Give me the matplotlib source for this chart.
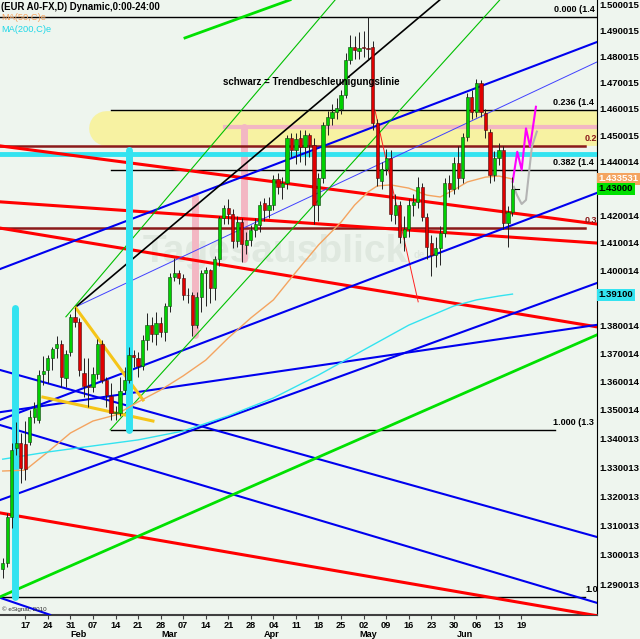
import numpy as np
import matplotlib.pyplot as plt
from matplotlib.transforms import blended_transform_factory
from matplotlib.ticker import FixedLocator, NullLocator, NullFormatter

plt.rcParams['font.family'] = ['Liberation Sans', 'DejaVu Sans']

# daily bars, index 0 = first bar on the chart
opens = [1.2953, 1.2973, 1.3130, 1.3367, 1.3384, 1.3380, 1.3387, 1.3475, 1.3465, 1.3626,
         1.3641, 1.3683, 1.3719, 1.3733, 1.3612, 1.3705, 1.3830, 1.3812, 1.3630, 1.3585,
         1.3581, 1.3627, 1.3733, 1.3605, 1.3550, 1.3490, 1.3490, 1.3570, 1.3605, 1.3694,
         1.3683, 1.3655, 1.3748, 1.3802, 1.3768, 1.3810, 1.3778, 1.3869, 1.3976, 1.3990,
         1.3972, 1.3910, 1.3910, 1.3802, 1.3904, 1.3990, 1.4000, 1.3934, 1.4040, 1.4190,
         1.4228, 1.4207, 1.4105, 1.4175, 1.4092, 1.4110, 1.4147, 1.4165, 1.4245, 1.4222,
         1.4240, 1.4335, 1.4305, 1.4320, 1.4490, 1.4445, 1.4490, 1.4457, 1.4500, 1.4465,
         1.4240, 1.4340, 1.4539, 1.4566, 1.4589, 1.4600, 1.4653, 1.4787, 1.4836, 1.4822,
         1.4836, 1.4834, 1.4837, 1.4546, 1.4330, 1.4375, 1.4414, 1.4203, 1.4240, 1.4121,
         1.4150, 1.4240, 1.4250, 1.4306, 1.4195, 1.4100, 1.4055, 1.4080, 1.4135, 1.4322,
         1.4300, 1.4395, 1.4340, 1.4494, 1.4645, 1.4589, 1.4700, 1.4585, 1.4513, 1.4351,
         1.4414, 1.4445, 1.4171, 1.4215]
highs = [1.2990, 1.3143, 1.3384, 1.3458, 1.3419, 1.3461, 1.3500, 1.3528, 1.3641, 1.3690,
         1.3694, 1.3723, 1.3762, 1.3748, 1.3712, 1.3841, 1.3866, 1.3826, 1.3683, 1.3683,
         1.3651, 1.3751, 1.3748, 1.3615, 1.3595, 1.3515, 1.3616, 1.3651, 1.3723, 1.3712,
         1.3705, 1.3766, 1.3845, 1.3830, 1.3850, 1.3830, 1.3880, 1.3990, 1.4046, 1.4000,
         1.3985, 1.3935, 1.3920, 1.3920, 1.4000, 1.4010, 1.4005, 1.4050, 1.4200, 1.4240,
         1.4260, 1.4225, 1.4200, 1.4190, 1.4140, 1.4165, 1.4190, 1.4255, 1.4265, 1.4270,
         1.4350, 1.4360, 1.4345, 1.4500, 1.4510, 1.4510, 1.4520, 1.4520, 1.4510, 1.4490,
         1.4360, 1.4550, 1.4590, 1.4620, 1.4640, 1.4670, 1.4815, 1.4885, 1.4880, 1.4895,
         1.4900, 1.4953, 1.4860, 1.4560, 1.4400, 1.4450, 1.4445, 1.4280, 1.4255, 1.4200,
         1.4260, 1.4280, 1.4345, 1.4320, 1.4210, 1.4130, 1.4120, 1.4160, 1.4340, 1.4350,
         1.4420, 1.4460, 1.4510, 1.4660, 1.4670, 1.4715, 1.4710, 1.4600, 1.4525, 1.4440,
         1.4470, 1.4460, 1.4235, 1.4344]
lows = [1.2922, 1.2960, 1.3092, 1.3343, 1.3246, 1.3256, 1.3377, 1.3455, 1.3455, 1.3588,
        1.3595, 1.3641, 1.3683, 1.3581, 1.3581, 1.3690, 1.3795, 1.3620, 1.3545, 1.3510,
        1.3563, 1.3610, 1.3595, 1.3510, 1.3465, 1.3465, 1.3477, 1.3560, 1.3595, 1.3651,
        1.3616, 1.3640, 1.3712, 1.3740, 1.3730, 1.3760, 1.3745, 1.3850, 1.3960, 1.3950,
        1.3890, 1.3880, 1.3762, 1.3790, 1.3850, 1.3869, 1.3880, 1.3890, 1.4015, 1.4170,
        1.4170, 1.4080, 1.4085, 1.4030, 1.4060, 1.4090, 1.4120, 1.4140, 1.4180, 1.4190,
        1.4220, 1.4280, 1.4260, 1.4300, 1.4420, 1.4392, 1.4400, 1.4390, 1.4420, 1.4170,
        1.4180, 1.4320, 1.4500, 1.4540, 1.4560, 1.4580, 1.4640, 1.4770, 1.4790, 1.4790,
        1.4800, 1.4790, 1.4520, 1.4310, 1.4300, 1.4350, 1.4180, 1.4170, 1.4100, 1.4070,
        1.4120, 1.4200, 1.4230, 1.4180, 1.4040, 1.3979, 1.4010, 1.4020, 1.4120, 1.4270,
        1.4280, 1.4300, 1.4320, 1.4480, 1.4560, 1.4570, 1.4570, 1.4490, 1.4320, 1.4330,
        1.4390, 1.4150, 1.4085, 1.4200]
closes = [1.2973, 1.3130, 1.3360, 1.3384, 1.3298, 1.3294, 1.3475, 1.3507, 1.3623, 1.3638,
          1.3683, 1.3715, 1.3733, 1.3616, 1.3698, 1.3830, 1.3812, 1.3641, 1.3585, 1.3581,
          1.3627, 1.3733, 1.3605, 1.3552, 1.3490, 1.3492, 1.3567, 1.3605, 1.3694, 1.3687,
          1.3655, 1.3748, 1.3802, 1.3768, 1.3810, 1.3778, 1.3869, 1.3976, 1.3990, 1.3972,
          1.3910, 1.3908, 1.3802, 1.3904, 1.3990, 1.4000, 1.3934, 1.4040, 1.4190, 1.4228,
          1.4207, 1.4105, 1.4175, 1.4095, 1.4110, 1.4147, 1.4170, 1.4240, 1.4222, 1.4240,
          1.4335, 1.4305, 1.4320, 1.4490, 1.4445, 1.4486, 1.4457, 1.4500, 1.4465, 1.4240,
          1.4340, 1.4539, 1.4570, 1.4589, 1.4605, 1.4653, 1.4787, 1.4836, 1.4825, 1.4832,
          1.4832, 1.4830, 1.4546, 1.4340, 1.4375, 1.4414, 1.4205, 1.4240, 1.4121, 1.4150,
          1.4240, 1.4250, 1.4306, 1.4195, 1.4085, 1.4055, 1.4080, 1.4135, 1.4322, 1.4300,
          1.4395, 1.4340, 1.4494, 1.4645, 1.4589, 1.4700, 1.4589, 1.4520, 1.4351, 1.4414,
          1.4445, 1.4171, 1.4215, 1.4300]

# moving averages read at some bars
ma50_idx = [0, 5, 10, 15, 20, 25, 30, 35, 40, 45, 50, 55, 60, 65, 70, 75, 78, 81, 83, 86,
            90, 94, 97, 100, 103, 107, 110, 113]
ma50_val = [1.3287, 1.3290, 1.3353, 1.3419, 1.3461, 1.3482, 1.3528, 1.3570, 1.3620, 1.3676,
            1.3755, 1.3827, 1.3892, 1.3993, 1.4092, 1.4176, 1.4239, 1.4288, 1.4310, 1.4314,
            1.4302, 1.4276, 1.4269, 1.4295, 1.4325, 1.4343, 1.4347, 1.4336]
ma200_idx = [0, 10, 20, 30, 40, 50, 60, 70, 80, 90, 100, 105, 110, 113]
ma200_val = [1.3328, 1.3353, 1.3374, 1.3395, 1.3426, 1.3479, 1.3542, 1.3623, 1.3712, 1.3801,
             1.3870, 1.3892, 1.3906, 1.3913]

# projections drawn after the last bar
magenta_idx = [113.05, 114.07, 115.04, 116.0, 116.9, 118.2]
magenta_val = [1.4326, 1.4438, 1.4370, 1.4526, 1.4457, 1.4608]
grey_idx = [113.3, 114.0, 115.04, 116.0, 117.3, 118.4]
grey_val = [1.4307, 1.4276, 1.4243, 1.4258, 1.4456, 1.4514]

# price scale
axis_vals = [1.500015, 1.490015, 1.480015, 1.470015, 1.460015, 1.450015, 1.440014,
             1.420014, 1.410014, 1.400014, 1.380014, 1.370014, 1.360014, 1.350014,
             1.340013, 1.330013, 1.320013, 1.310013, 1.300013, 1.290013]
week_pos = list(range(5, 116, 5))
week_labels = ['17', '24', '31', '07', '14', '21', '28', '07', '14', '21', '28', '04',
               '11', '18', '25', '02', '09', '16', '23', '30', '06', '13', '19']
month_pos = [16.9, 36.9, 59.7, 81.0, 102.5]
month_labels = ['Feb', 'Mar', 'Apr', 'May', 'Jun']

# drawn trend lines: (bar0, price0, bar1, price1, colour, width)
trend_lines = [
    (-0.6, 1.4460, 131.7, 1.4169, '#ff0000', 2.2),
    (-0.6, 1.4251, 131.7, 1.4099, '#ff0000', 2.2),
    (-0.6, 1.4154, 131.7, 1.3795, '#ff0000', 2.2),
    (-0.6, 1.3143, 131.7, 1.2796, '#ff0000', 2.2),
    (82.5, 1.4596, 92.1, 1.3885, '#ff2020', 0.7),
    (-0.6, 1.4004, 131.7, 1.4856, '#0000ee', 1.5),
    (-0.6, 1.3465, 131.7, 1.4284, '#0000ee', 1.5),
    (-0.6, 1.3187, 131.7, 1.3953, '#0000ee', 1.5),
    (-0.6, 1.3492, 131.7, 1.3802, '#0000ee', 1.5),
    (-0.6, 1.3641, 131.7, 1.3061, '#0000ee', 1.5),
    (-0.6, 1.3447, 131.7, 1.2839, '#0000ee', 1.5),
    (-0.6, 1.2856, 10.5, 1.2799, '#0000ee', 1.5),
    (16.2, 1.3867, 131.7, 1.4779, '#4040ff', 0.7),
    (16.2, 1.3867, 96.9, 1.5020, '#000000', 1.2),
    (-0.6, 1.2859, 131.7, 1.3766, '#00e000', 2.0),
    (40.4, 1.4872, 63.7, 1.5020, '#00e000', 2.0),
    (14.0, 1.3831, 73.7, 1.5020, '#00c000', 0.8),
    (23.8, 1.3430, 110.2, 1.5020, '#00c000', 0.8),
    (16.2, 1.3863, 31.1, 1.3535, '#f5c518', 2.2),
    (8.9, 1.3545, 33.3, 1.3461, '#f5c518', 2.2),
]

# horizontal levels: (price, start bar, end bar, colour, label, label bar)
levels = [
    (1.4953, -0.6, 131.7, '#000000', '0.000 (1.4', 122.2),
    (1.4594, 24.0, 131.7, '#000000', '0.236 (1.4', 122.0),
    (1.4371, 24.0, 131.7, '#000000', '0.382 (1.4', 122.0),
    (1.3430, 24.0, 122.4, '#000000', '1.000 (1.3', 122.0),
    (1.2859, -0.6, 129.1, '#000000', '1.0', 129.1),
    (1.4460, -0.6, 129.1, '#8b1a1a', '0.2', 129.1),
    (1.4154, -0.6, 129.1, '#8b1a1a', '0.3', 129.1),
]

fig = plt.figure(figsize=(6.4, 6.39), dpi=100)
fig.patch.set_facecolor('#eef5ee')
ax = fig.add_axes([0, 24 / 639, 597 / 640, 615 / 639])
ax.set_facecolor('#eef5ee')
ax.set_yscale('log')
ax.set_xlim(-0.607, 131.74)
ax.set_ylim(1.27984, 1.50195)

# yellow zone, pink marks, cyan bars
ax.plot([22.8, 135], [1.4529, 1.4529], color='#f7f2a2', lw=25, solid_capstyle='round', zorder=1)
ax.plot([49.3, 135], [1.4531, 1.4531], color='#f3b7c3', lw=3, zorder=2)
ax.plot([53.5, 53.5], [1.4531, 1.4040], color='#f3b7c3', lw=5, solid_capstyle='round', zorder=2)
ax.plot([42.6, 42.6], [1.4269, 1.3765], color='#f3b7c3', lw=5, solid_capstyle='round', zorder=2)
ax.plot([-1, 135], [1.4430, 1.4430], color='#33e3f0', lw=3.5, zorder=3)

ax.text(143 / 597, 1 - 262 / 615, 'Tagesausblick', transform=ax.transAxes, fontsize=28,
        fontweight='bold', color='#dfe8df', zorder=1.5)
ax.text(414 / 597, 1 - 258 / 615, 'de', transform=ax.transAxes, fontsize=7,
        fontweight='bold', color='#dfe8df', zorder=1.5)

for p, k0, k1, col, lab, kl in levels:
    ax.plot([k0, k1], [p, p], color=col, lw=1.0 if col == '#000000' else 1.8, zorder=3)
    ax.text(kl, p * 1.0008, lab, fontsize=6.5, fontweight='bold', color=col,
            va='bottom', zorder=7, clip_on=True)

for k0, p0, k1, p1, col, w in trend_lines:
    ax.plot([k0, k1], [p0, p1], color=col, lw=w, zorder=3.5)

ax.plot([2.72, 2.72], [1.3863, 1.2859], color='#33e3f0', lw=5, solid_capstyle='round', zorder=4)
ax.plot([28.0, 28.0], [1.4445, 1.3430], color='#33e3f0', lw=5, solid_capstyle='round', zorder=4)

ax.plot(ma50_idx, ma50_val, color='#f4a460', lw=1.0, zorder=5)
ax.plot(ma200_idx, ma200_val, color='#33e3f0', lw=1.0, zorder=5)

ax.plot(magenta_idx, magenta_val, color='#ff00ff', lw=1.5, zorder=5)
ax.plot(grey_idx, grey_val, color='#b4b4b4', lw=1.5, zorder=5)

# candles
idx = np.arange(len(closes))
o = np.array(opens)
c = np.array(closes)
up = c >= o
ax.vlines(idx, lows, highs, color='#202020', lw=0.7, zorder=6)
body_lo = np.minimum(o, c)
body_h = np.maximum(np.abs(c - o), 0.0002)
ax.bar(idx[up], body_h[up], bottom=body_lo[up], width=0.72, color='#00d000',
       edgecolor='#104010', linewidth=0.4, zorder=6.5)
ax.bar(idx[~up], body_h[~up], bottom=body_lo[~up], width=0.72, color='#e00000',
       edgecolor='#401010', linewidth=0.4, zorder=6.5)
ax.plot([113.6, 114.4], [closes[-1], closes[-1]], color='black', lw=0.8, zorder=6)

# axes
for s in ['top', 'left']:
    ax.spines[s].set_visible(False)
ax.spines['right'].set_color('black')
ax.spines['bottom'].set_color('#404040')
ax.spines['bottom'].set_linewidth(1.5)
ax.yaxis.tick_right()
ax.yaxis.set_major_locator(FixedLocator(axis_vals))
ax.yaxis.set_major_formatter(plt.FixedFormatter(['%.6f' % v for v in axis_vals]))
ax.yaxis.set_minor_locator(NullLocator())
ax.yaxis.set_minor_formatter(NullFormatter())
ax.tick_params(axis='y', length=0, pad=2, labelsize=6.8)
for t in ax.get_yticklabels():
    t.set_fontweight('bold')
ax.set_xticks(week_pos, week_labels)
ax.tick_params(axis='x', length=3, width=0.8, color='#404040', pad=1, labelsize=6.6)
for t in ax.get_xticklabels():
    t.set_fontweight('bold')
tr = blended_transform_factory(ax.transData, ax.transAxes)
for mp, ml in zip(month_pos, month_labels):
    ax.text(mp, -0.031, ml, transform=tr, ha='center', va='center', fontsize=6.6,
            fontweight='bold')

# price boxes on the scale
tr2 = blended_transform_factory(ax.transAxes, ax.transData)
ax.text(1.003, 1.4336, '1.433531', transform=tr2, fontsize=6.8, fontweight='bold', color='white',
        va='center', ha='left', bbox=dict(boxstyle='square,pad=0.15', fc='#f4a460', ec='none'),
        clip_on=False, zorder=8)
ax.text(1.003, 1.4300, '1.43000', transform=tr2, fontsize=6.8, fontweight='bold', color='black',
        va='center', ha='left', bbox=dict(boxstyle='square,pad=0.15', fc='#00e000', ec='none'),
        clip_on=False, zorder=9)
ax.text(1.003, 1.3910, '1.39100', transform=tr2, fontsize=6.8, fontweight='bold', color='black',
        va='center', ha='left', bbox=dict(boxstyle='square,pad=0.15', fc='#33e3f0', ec='none'),
        clip_on=False, zorder=9)

# texts
ax.text(0.002, 1 - 7 / 615, '(EUR A0-FX,D) Dynamic,0:00-24:00', transform=ax.transAxes,
        fontsize=6.9, fontweight='bold', va='center', zorder=8)
ax.text(0.002, 1 - 18 / 615, 'MA(50,C)e', transform=ax.transAxes, fontsize=6.7,
        color='#f4a460', va='center', zorder=8)
ax.text(0.002, 1 - 29 / 615, 'MA(200,C)e', transform=ax.transAxes, fontsize=6.7,
        color='#20d8e8', va='center', zorder=8)
ax.text(223 / 597, 1 - 82 / 615, 'schwarz = Trendbeschleunigungslinie', transform=ax.transAxes,
        fontsize=7.0, fontweight='bold', va='center', zorder=8)
ax.text(0.003, 1 - 609 / 615, '© eSignal, 2010', transform=ax.transAxes, fontsize=4.5,
        color='#303030', va='center', zorder=8)

fig.savefig('out.png', dpi=100, facecolor=fig.get_facecolor())
